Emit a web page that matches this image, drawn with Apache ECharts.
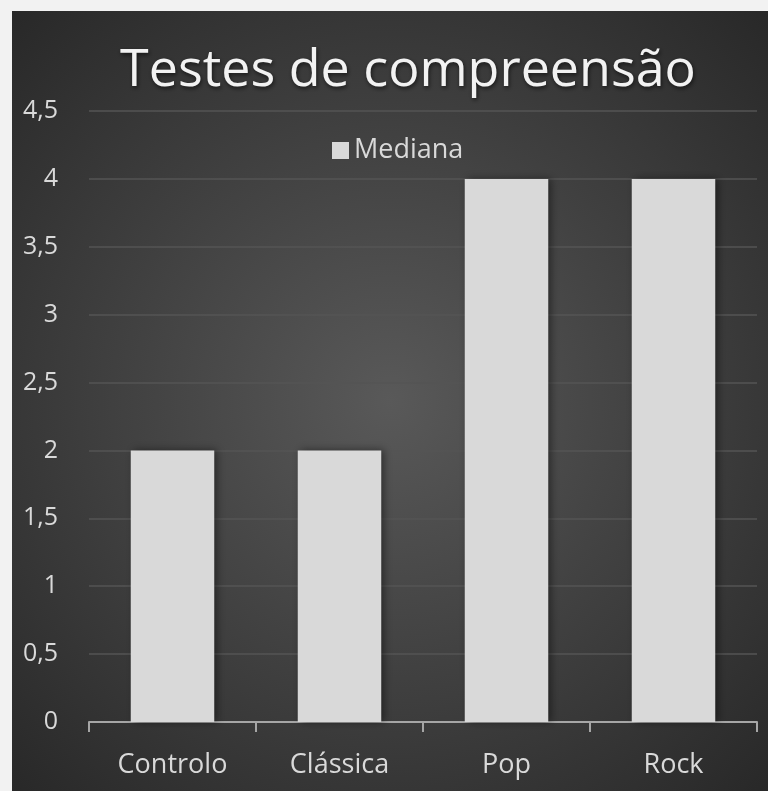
<!DOCTYPE html>
<html>
<head>
<meta charset="utf-8">
<script src="https://cdn.jsdelivr.net/npm/echarts@6/dist/echarts.min.js"></script>
<style>
  html, body { margin: 0; padding: 0; background: #f2f2f2; }
  #chart { width: 768px; height: 791px; }
</style>
</head>
<body>
<div id="chart"></div>
<script>
const categories = ["Controlo", "Clássica", "Pop", "Rock"];
const mediana = [2, 2, 4, 4];
const yTicks = [0, 0.5, 1, 1.5, 2, 2.5, 3, 3.5, 4, 4.5];

const chart = echarts.init(document.getElementById("chart"));

chart.setOption({
    backgroundColor: "#f2f2f2",
    textStyle: { fontFamily: "Open Sans" },
    graphic: [
        {
            type: "rect",
            z: -10,
            shape: { x: 12, y: 11, width: 756, height: 780 },
            style: {
                fill: new echarts.graphic.RadialGradient(0.5, 0.5, 0.75, [
                    { offset: 0, color: "#595959" },
                    { offset: 1, color: "#262626" },
                ]),
            },
        },
    ],
    title: {
        text: "Testes de compreensão",
        left: 403,
        textAlign: "center",
        top: 40,
        textStyle: {
            color: "#f2f2f2",
            fontSize: 52,
            fontWeight: "normal",
            fontFamily: "Open Sans",
            textShadowColor: "rgba(0,0,0,0.6)",
            textShadowBlur: 4,
            textShadowOffsetX: 1,
            textShadowOffsetY: 2,
        },
    },
    legend: {
        data: ["Mediana"],
        left: 327,
        top: 132,
        icon: "rect",
        itemWidth: 17,
        itemHeight: 17,
        itemGap: 8,
        textStyle: { color: "#d9d9d9", fontSize: 27 },
    },
    grid: {
        left: 89,
        right: 11,
        top: 111,
        bottom: 69,
        containLabel: false,
    },
    xAxis: {
        type: "category",
        data: categories,
        axisLine: { lineStyle: { color: "#a6a6a6", width: 2 } },
        axisTick: { show: true, length: 10, lineStyle: { color: "#a6a6a6", width: 2 } },
        axisLabel: { color: "#d9d9d9", fontSize: 27, margin: 30 },
    },
    yAxis: {
        type: "value",
        min: 0,
        max: yTicks[yTicks.length - 1],
        interval: 0.5,
        axisLine: { show: false },
        axisTick: { show: false },
        axisLabel: {
            color: "#d9d9d9",
            fontSize: 25,
            margin: 31,
            formatter: (v) => String(v).replace(".", ","),
        },
        splitLine: { lineStyle: { color: "#555555", width: 1.5 } },
    },
    series: [
        {
            name: "Mediana",
            type: "bar",
            data: mediana,
            barWidth: "50%",
            itemStyle: {
                color: "#d9d9d9",
                shadowColor: "rgba(0,0,0,0.45)",
                shadowBlur: 8,
                shadowOffsetX: 3,
                shadowOffsetY: 0,
            },
            animation: false,
        },
    ],
});
</script>
</body>
</html>
